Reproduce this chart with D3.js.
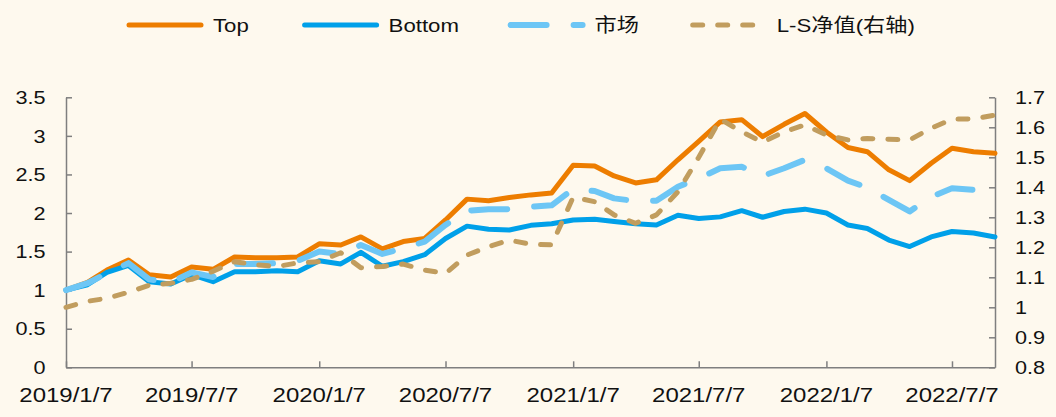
<!DOCTYPE html>
<html>
<head>
<meta charset="utf-8">
<script src="https://cdn.jsdelivr.net/npm/d3@7"></script>
<style>
  html, body { margin: 0; padding: 0; background: #FEF9EE; }
  svg { display: block; }
  text { font-family: "Liberation Sans", Arial, "Noto Sans CJK SC", sans-serif; fill: #111; }
</style>
</head>
<body>
<svg id="chart" width="1056" height="417"></svg>
<script>
const dates = [
  "2019/1/7","2019/2/7","2019/3/7","2019/4/7","2019/5/7","2019/6/7","2019/7/7","2019/8/7","2019/9/7","2019/10/7","2019/11/7","2019/12/7",
  "2020/1/7","2020/2/7","2020/3/7","2020/4/7","2020/5/7","2020/6/7","2020/7/7","2020/8/7","2020/9/7","2020/10/7","2020/11/7","2020/12/7",
  "2021/1/7","2021/2/7","2021/3/7","2021/4/7","2021/5/7","2021/6/7","2021/7/7","2021/8/7","2021/9/7","2021/10/7","2021/11/7","2021/12/7",
  "2022/1/7","2022/2/7","2022/3/7","2022/4/7","2022/5/7","2022/6/7","2022/7/7","2022/8/7","2022/9/7"
];
const topVals = [
  1.00,1.10,1.26,1.39,1.20,1.17,1.30,1.27,1.43,1.42,1.42,1.43,
  1.60,1.585,1.69,1.535,1.63,1.67,1.91,2.18,2.16,2.20,2.235,2.26,
  2.62,2.61,2.48,2.39,2.43,2.69,2.93,3.18,3.21,2.99,3.15,3.29,
  3.05,2.85,2.795,2.56,2.42,2.645,2.84,2.795,2.775
];
const bottomVals = [
  1.00,1.07,1.23,1.32,1.11,1.08,1.20,1.11,1.24,1.24,1.25,1.24,
  1.38,1.34,1.49,1.31,1.37,1.46,1.67,1.83,1.79,1.78,1.84,1.86,
  1.91,1.92,1.89,1.86,1.845,1.97,1.93,1.95,2.03,1.945,2.02,2.05,
  2.00,1.845,1.80,1.65,1.565,1.69,1.76,1.74,1.69
];
const marketVals = [
  1.00,1.09,1.22,1.35,1.14,1.10,1.23,1.17,1.34,1.34,1.35,1.38,
  1.50,1.47,1.585,1.47,1.54,1.63,1.845,2.03,2.05,2.05,2.08,2.10,
  2.31,2.285,2.19,2.155,2.16,2.34,2.45,2.58,2.60,2.48,2.58,2.69,
  2.58,2.42,2.33,2.17,2.02,2.21,2.32,2.30,2.265
];
const lsVals = [
  1.000,1.020,1.030,1.050,1.074,1.080,1.093,1.120,1.152,1.142,1.136,1.148,
  1.152,1.182,1.132,1.136,1.144,1.124,1.113,1.174,1.202,1.224,1.210,1.208,
  1.367,1.352,1.308,1.280,1.308,1.385,1.500,1.627,1.585,1.550,1.585,1.608,
  1.574,1.558,1.563,1.560,1.558,1.597,1.627,1.628,1.641
];
const xTickLabels = ["2019/1/7","2019/7/7","2020/1/7","2020/7/7","2021/1/7","2021/7/7","2022/1/7","2022/7/7"];
const leftTicks = [0,0.5,1,1.5,2,2.5,3,3.5];
const rightTicks = [0.8,0.9,1.0,1.1,1.2,1.3,1.4,1.5,1.6,1.7];
const seriesNames = ["Top","Bottom","市场","L-S净值(右轴)"];

const parse = d3.timeParse("%Y/%-m/%-d");
const svg = d3.select("#chart");

const x = d3.scaleTime().domain([parse(dates[0]), parse(dates[dates.length-1])]).range([66, 995]);
const yL = d3.scaleLinear().domain([0, 3.5]).range([367.3, 97.3]);
const yR = d3.scaleLinear().domain([0.8, 1.7]).range([367.3, 97.3]);

const axisColor = "#7f7f7f";
function styleAxis(g) {
  g.selectAll("path.domain").attr("stroke", axisColor).attr("stroke-width", 1.5);
  g.selectAll(".tick line").attr("stroke", axisColor).attr("stroke-width", 1.5);
  g.selectAll(".tick text").remove();
}

svg.append("g").attr("transform", "translate(0,367.3)")
  .call(d3.axisBottom(x).tickValues(xTickLabels.map(parse)).tickSizeInner(-6).tickSizeOuter(0).tickFormat(""))
  .call(styleAxis);
svg.append("g").attr("transform", "translate(66,0)")
  .call(d3.axisLeft(yL).tickValues(leftTicks).tickSizeInner(-6).tickSizeOuter(0).tickFormat(""))
  .call(styleAxis);
svg.append("g").attr("transform", "translate(995,0)")
  .call(d3.axisRight(yR).tickValues(rightTicks).tickSizeInner(-6).tickSizeOuter(0).tickFormat(""))
  .call(styleAxis);

// tick labels (slightly wide type as in reference)
const fmtL = d3.format("~g");
svg.append("g").selectAll("text").data(leftTicks).join("text")
  .attr("transform", d => `translate(45.5,${yL(d) + 6.7}) scale(1.17,1)`)
  .attr("text-anchor", "end").attr("font-size", 18.5).text(d => fmtL(d));
svg.append("g").selectAll("text").data(rightTicks).join("text")
  .attr("transform", d => `translate(1015,${yR(d) + 6.7}) scale(1.17,1)`)
  .attr("text-anchor", "start").attr("font-size", 18.5).text(d => fmtL(+d.toFixed(1)));
svg.append("g").selectAll("text").data(xTickLabels).join("text")
  .attr("transform", d => `translate(${x(parse(d))},401.5) scale(1.2,1)`)
  .attr("text-anchor", "middle").attr("font-size", 20).text(d => d);

// lines
const data = dates.map((d, i) => ({ date: parse(d), top: topVals[i], bottom: bottomVals[i], market: marketVals[i], ls: lsVals[i] }));
const styles = [
  { key: "top", scale: yL, color: "#ED7D00", width: 5, dash: null },
  { key: "bottom", scale: yL, color: "#00A0E9", width: 5, dash: null },
  { key: "market", scale: yL, color: "#6DC6F5", width: 6, dash: "36,27" },
  { key: "ls", scale: yR, color: "#C19D5E", width: 5, dash: "10,15" }
];
styles.forEach(s => {
  const line = d3.line().x(d => x(d.date)).y(d => s.scale(d[s.key]));
  svg.append("path").datum(data)
    .attr("fill", "none")
    .attr("stroke", s.color)
    .attr("stroke-width", s.width)
    .attr("stroke-linejoin", "round")
    .attr("stroke-linecap", "round")
    .attr("stroke-dasharray", s.dash)
    .attr("d", line);
});

// legend
const legendX = [126, 301.6, 507.6, 689.7];
const legend = svg.append("g");
styles.forEach((s, i) => {
  const lx = legendX[i];
  legend.append("line")
    .attr("x1", lx + 3).attr("x2", lx + 75).attr("y1", 25).attr("y2", 25)
    .attr("stroke", s.color).attr("stroke-width", s.width)
    .attr("stroke-linecap", "round").attr("stroke-dasharray", s.dash);
  legend.append("text")
    .attr("transform", `translate(${lx + 87},32) scale(1.17,1)`)
    .attr("font-size", 19).text(seriesNames[i]);
});
</script>
</body>
</html>
